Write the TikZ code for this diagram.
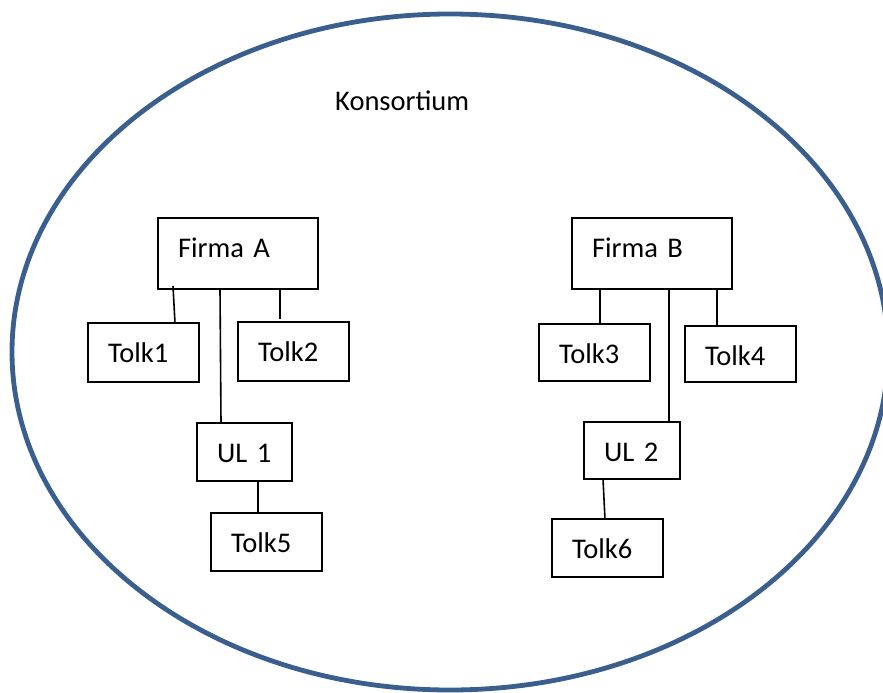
\documentclass[tikz,border=0pt]{standalone}
\usepackage{fontspec}
\setmainfont{Carlito}
\definecolor{ringblue}{RGB}{58,95,142}
\begin{document}
\begin{tikzpicture}[x=1pt,y=-1pt,
  every node/.style={font=\fontsize{28.5}{34}\selectfont},
  box/.style={draw=black, line width=1.6pt, inner xsep=20pt, inner ysep=0pt,
    align=left, anchor=north west, text height=39pt, outer sep=0pt},
  conn/.style={draw=black, line width=1.6pt}]
\useasboundingbox (0,0) rectangle (883,693);
\clip (0,0) rectangle (883,693);
\fill[white] (0,0) rectangle (883,693);
\draw[ringblue, line width=4.8pt] (450,352) ellipse [x radius=438, y radius=338];
\node[anchor=base west, inner sep=0pt] (K) at (335,110) {Konsortium};
% Firma A group
\node[box, text width=120pt, text depth=32pt] (A) at (158,218) {\mbox{Firma A}};
\node[box, text width=71pt, text depth=20pt] (T1) at (88,323) {Tolk1};
\node[box, text width=71pt, text depth=20pt] (T2) at (238,322) {Tolk2};
\node[box, text width=55pt, text depth=19pt] (U1) at (197,423) {\mbox{UL 1}};
\node[box, text width=71pt, text depth=19pt] (T5) at (211,513) {Tolk5};
% Firma B group
\node[box, text width=120pt, text depth=32pt] (B) at (572,218) {\mbox{Firma B}};
\node[box, text width=71pt, text depth=18pt] (T3) at (539,324) {Tolk3};
\node[box, text width=71pt, text depth=17pt] (T4) at (685,326) {Tolk4};
\node[box, text width=56pt, text depth=18pt] (U2) at (584,422) {\mbox{UL 2}};
\node[box, text width=71pt, text depth=19pt] (T6) at (552,519) {Tolk6};
% connectors
\draw[conn] ([xshift=15pt,yshift=3pt]A.south west) -- ([xshift=87pt]T1.north west);
\draw[conn] ([xshift=122pt]A.south west) -- ([xshift=42pt,yshift=3pt]T2.north west);
\draw[conn] ([xshift=62pt]A.south west) -- ([xshift=24pt]U1.north west);
\draw[conn] ([xshift=61pt]U1.south west) -- ([xshift=47pt]T5.north west);
\draw[conn] ([xshift=28pt]B.south west) -- ([xshift=61pt]T3.north west);
\draw[conn] ([xshift=145pt]B.south west) -- ([xshift=32pt]T4.north west);
\draw[conn] ([xshift=97pt]B.south west) -- ([xshift=85pt]U2.north west);
\draw[conn] ([xshift=19pt]U2.south west) -- ([xshift=53pt]T6.north west);
\end{tikzpicture}
\end{document}
